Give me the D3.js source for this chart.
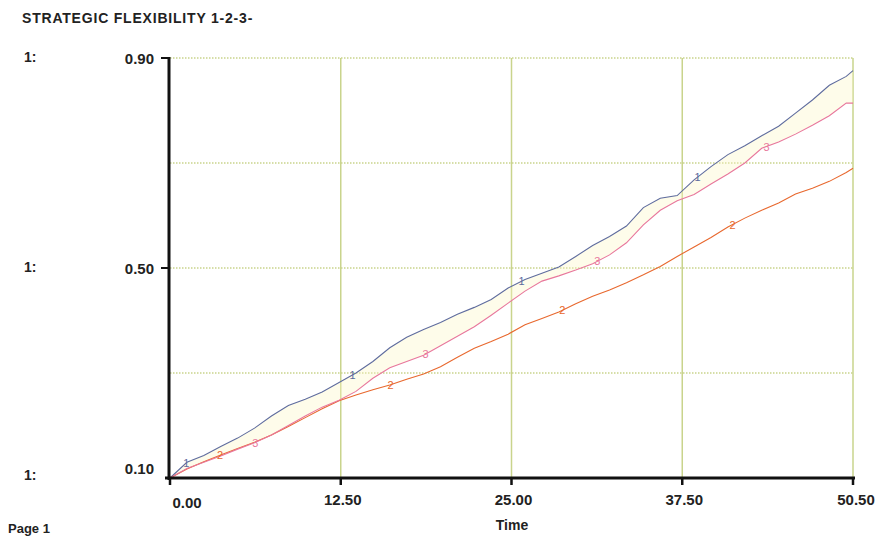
<!DOCTYPE html>
<html>
<head>
<meta charset="utf-8">
<script src="https://cdn.jsdelivr.net/npm/d3@7"></script>
<style>
  body { margin: 0; background: #fff; }
  svg text { font-family: "Liberation Sans", Arial, sans-serif; }
</style>
</head>
<body>
<svg id="chart"></svg>
<script>
// time points (x) and the three plotted series
var times = [0, 1.25, 2.5, 3.75, 5, 6.25, 7.5, 8.75, 10, 11.25, 12.5, 13.75, 15, 16.25, 17.5, 18.75,
             20, 21.25, 22.5, 23.75, 25, 26.25, 27.5, 28.75, 30, 31.25, 32.5, 33.75, 35, 36.25, 37.5,
             38.75, 40, 41.25, 42.5, 43.75, 45, 46.25, 47.5, 48.75, 50, 50.5];

var series1 = [0.100, 0.130, 0.143, 0.160, 0.176, 0.195, 0.218, 0.238, 0.250, 0.264, 0.282, 0.300,
               0.322, 0.348, 0.368, 0.383, 0.396, 0.412, 0.425, 0.440, 0.462, 0.478, 0.490, 0.502,
               0.522, 0.543, 0.560, 0.580, 0.615, 0.633, 0.638, 0.668, 0.693, 0.716, 0.733, 0.752,
               0.770, 0.795, 0.820, 0.848, 0.865, 0.876];

var series2 = [0.100, 0.117, 0.131, 0.144, 0.156, 0.168, 0.182, 0.198, 0.215, 0.232, 0.247, 0.258,
               0.268, 0.277, 0.288, 0.298, 0.312, 0.330, 0.347, 0.360, 0.374, 0.392, 0.404, 0.416,
               0.432, 0.446, 0.458, 0.472, 0.487, 0.503, 0.522, 0.540, 0.558, 0.578, 0.595, 0.610,
               0.624, 0.641, 0.652, 0.665, 0.682, 0.690];

var series3 = [0.100, 0.118, 0.130, 0.142, 0.155, 0.167, 0.182, 0.200, 0.218, 0.235, 0.248, 0.265,
               0.290, 0.310, 0.322, 0.334, 0.352, 0.370, 0.388, 0.410, 0.433, 0.456, 0.475, 0.485,
               0.496, 0.508, 0.525, 0.548, 0.582, 0.610, 0.628, 0.640, 0.660, 0.679, 0.700, 0.728,
               0.740, 0.755, 0.772, 0.790, 0.814, 0.814];

// where the little series numbers sit along each line
var labelTimes1 = [1.2, 13.5, 26, 39];
var labelTimes2 = [3.7, 16.3, 29, 41.6];
var labelTimes3 = [6.3, 18.9, 31.6, 44.1];

var xTickValues = [0, 12.625, 25.25, 37.875, 50.5];
var xTickLabels = ["0.00", "12.50", "25.00", "37.50", "50.50"];
var yGridValues = [0.9, 0.7, 0.5, 0.3];
var yTickLabels = ["0.90", "0.50", "0.10"];
var yTickValues = [0.9, 0.5, 0.1];

var width = 878, height = 539;
var svg = d3.select('#chart')
            .attr('width', width)
            .attr('height', height);

svg.append('rect').attr('width', width).attr('height', height).attr('fill', '#fff');

var xScale = d3.scaleLinear().domain([0, 50.5]).range([170, 853]);
var yScale = d3.scaleLinear().domain([0.1, 0.9]).range([478, 58]);

var gridColor = '#c9d48c';

// vertical grid
svg.selectAll('.vgrid').data(xTickValues.slice(1))
   .enter().append('line')
   .attr('x1', d => xScale(d)).attr('x2', d => xScale(d))
   .attr('y1', yScale(0.9)).attr('y2', yScale(0.1))
   .attr('stroke', gridColor).attr('stroke-width', 1.5);

// horizontal dotted grid
svg.selectAll('.hgrid').data(yGridValues)
   .enter().append('line')
   .attr('x1', xScale(0)).attr('x2', xScale(50.5))
   .attr('y1', d => yScale(d)).attr('y2', d => yScale(d))
   .attr('stroke', gridColor).attr('stroke-width', 1.5)
   .attr('stroke-dasharray', '1.5,1.5');

// faint yellow band between line 1 and line 3
var band = d3.area()
             .x((d, i) => xScale(times[i]))
             .y0((d, i) => yScale(series3[i]))
             .y1((d, i) => yScale(series1[i]));
svg.append('path').datum(times)
   .attr('d', band)
   .attr('fill', '#fbf5c4').attr('opacity', 0.35);

var line = d3.line()
             .x(d => xScale(d[0]))
             .y(d => yScale(d[1]));

var allSeries = [
  { vals: series1, color: '#5f6c9e', name: '1', labels: labelTimes1 },
  { vals: series2, color: '#e8682e', name: '2', labels: labelTimes2 },
  { vals: series3, color: '#e8779c', name: '3', labels: labelTimes3 }
];

allSeries.forEach(s => {
  svg.append('path')
     .datum(times.map((t, i) => [t, s.vals[i]]))
     .attr('d', line)
     .attr('fill', 'none')
     .attr('stroke', s.color)
     .attr('stroke-width', 1.1);
});

// series number labels on the lines
function valueAt(vals, t) {
  var i = d3.bisectLeft(times, t);
  if (i <= 0) return vals[0];
  var a = times[i - 1], b = times[i];
  return vals[i - 1] + (vals[i] - vals[i - 1]) * (t - a) / (b - a);
}
allSeries.forEach(s => {
  svg.selectAll('.lbl' + s.name).data(s.labels)
     .enter().append('text')
     .attr('x', d => xScale(d))
     .attr('y', d => yScale(valueAt(s.vals, d)) + 4)
     .attr('text-anchor', 'middle')
     .attr('font-size', 11)
     .attr('fill', s.color)
     .text(s.name);
});

// axes
svg.append('line')
   .attr('x1', 169).attr('x2', 169)
   .attr('y1', yScale(0.9) - 1).attr('y2', yScale(0.1) + 2)
   .attr('stroke', '#111').attr('stroke-width', 3);
svg.append('line')
   .attr('x1', 165).attr('x2', xScale(50.5) + 2)
   .attr('y1', yScale(0.1)).attr('y2', yScale(0.1))
   .attr('stroke', '#111').attr('stroke-width', 3);

// y tick marks
svg.selectAll('.ytick').data([0.9, 0.5])
   .enter().append('line')
   .attr('x1', 161).attr('x2', 169)
   .attr('y1', d => yScale(d)).attr('y2', d => yScale(d))
   .attr('stroke', '#111').attr('stroke-width', 2);

// x tick marks
svg.selectAll('.xtick').data(xTickValues)
   .enter().append('line')
   .attr('x1', d => xScale(d)).attr('x2', d => xScale(d))
   .attr('y1', yScale(0.1)).attr('y2', yScale(0.1) + 7)
   .attr('stroke', '#111').attr('stroke-width', 2.5);

// x tick labels
svg.selectAll('.xlabel').data(xTickValues)
   .enter().append('text')
   .attr('x', (d, i) => i === 0 ? xScale(d) + 17 : xScale(d) + (i === 4 ? 3 : 2))
   .attr('y', (d, i) => i === 0 ? 508 : 505)
   .attr('text-anchor', 'middle')
   .attr('font-size', 15)
   .attr('font-weight', 'bold')
   .attr('fill', '#222')
   .text((d, i) => xTickLabels[i]);

// y tick labels
svg.selectAll('.ylabel').data(yTickValues)
   .enter().append('text')
   .attr('x', 154)
   .attr('y', d => d === 0.1 ? 474 : yScale(d) + 6)
   .attr('text-anchor', 'end')
   .attr('font-size', 15)
   .attr('font-weight', 'bold')
   .attr('fill', '#222')
   .text((d, i) => yTickLabels[i]);

// "1:" scale markers on the far left
svg.selectAll('.scale1').data(yTickValues)
   .enter().append('text')
   .attr('x', 24)
   .attr('y', d => d === 0.1 ? 480 : yScale(d) + (d === 0.9 ? 4 : 4))
   .attr('font-size', 14)
   .attr('font-weight', 'bold')
   .attr('fill', '#222')
   .text('1:');

svg.append('text')
   .attr('x', 22).attr('y', 23)
   .attr('font-size', 14)
   .attr('font-weight', 'bold')
   .attr('letter-spacing', 0.8)
   .attr('fill', '#222')
   .text('STRATEGIC FLEXIBILITY 1-2-3-');

svg.append('text')
   .attr('x', 512).attr('y', 530)
   .attr('text-anchor', 'middle')
   .attr('font-size', 14)
   .attr('font-weight', 'bold')
   .attr('fill', '#222')
   .text('Time');

svg.append('text')
   .attr('x', 8).attr('y', 533)
   .attr('font-size', 13)
   .attr('font-weight', 'bold')
   .attr('fill', '#222')
   .text('Page 1');
</script>
</body>
</html>
